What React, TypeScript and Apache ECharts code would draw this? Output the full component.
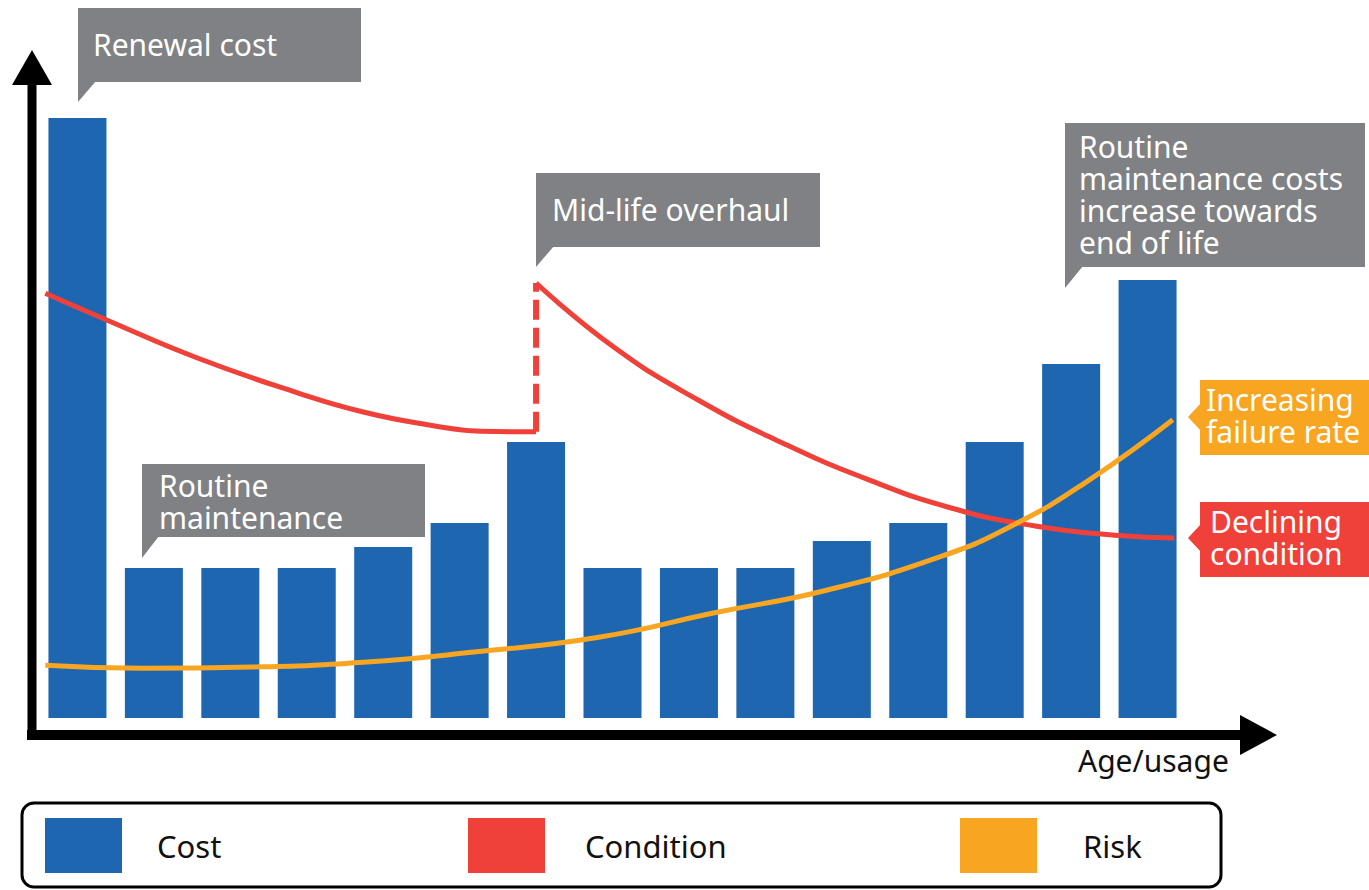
import React, { useEffect, useRef } from "react";
import * as echarts from "echarts";

// Asset life-cycle: cost per period, condition and risk over age/usage
const costValues = [100, 25, 25, 25, 28.5, 32.5, 46, 25, 25, 25, 29.5, 32.5, 46, 59, 73];

const conditionBeforeAge = [0.58, 1.39, 2.57, 3.88, 4.74, 5.62, 6.27, 7.0];
const conditionBefore = [70.8, 66.3, 60, 54.2, 51, 48.8, 47.8, 47.7];
const conditionAfterAge = [7.0, 8.02, 9.12, 10.23, 11.33, 12.43, 13.53, 14.63, 15.35];
const conditionAfter = [72.5, 61.8, 53.0, 45.8, 39.8, 35.0, 32.0, 30.4, 30];

const riskAge = [0.58, 1.84, 3.29, 4.74, 6.19, 7.84, 9.32, 10.8, 12.27, 13.25, 14.24, 15.33];
const riskValues = [8.8, 8.3, 8.5, 9.3, 11, 13.5, 17.5, 21.3, 26.8, 32.2, 39.7, 49.7];

const legendNames = ["Cost", "Condition", "Risk"];

const BLUE = "#1f66b0";
const RED = "#ef4139";
const ORANGE = "#f8a522";
const GREY = "#808185";
const FONT = '"Noto Sans", "Open Sans", sans-serif';

type Callout = {
  x: number;
  y: number;
  w: number;
  h: number;
  tail: number[][];
  text: string;
  tx: number;
  ty: number;
  color: string;
};

const callouts: Callout[] = [
  { x: 78, y: 8, w: 283, h: 74, tail: [[78, 81], [96, 81], [78, 102]], text: "Renewal cost", tx: 93, ty: 28, color: GREY },
  { x: 536, y: 173, w: 284, h: 74, tail: [[536, 246], [554, 246], [536, 267]], text: "Mid-life overhaul", tx: 552, ty: 193, color: GREY },
  { x: 142, y: 464, w: 283, h: 73, tail: [[142, 536], [159, 536], [142, 558]], text: "Routine\nmaintenance", tx: 159, ty: 469, color: GREY },
  {
    x: 1065, y: 123, w: 300, h: 144, tail: [[1065, 266], [1083, 266], [1065, 288]],
    text: "Routine\nmaintenance costs\nincrease towards\nend of life", tx: 1079, ty: 130, color: GREY,
  },
  { x: 1200, y: 380, w: 200, h: 75, tail: [[1201, 403], [1188, 417], [1201, 431]], text: "Increasing\nfailure rate", tx: 1206, ty: 383, color: ORANGE },
  { x: 1200, y: 502, w: 200, h: 75, tail: [[1201, 524], [1188, 538], [1201, 552]], text: "Declining\ncondition", tx: 1210, ty: 505, color: RED },
];

function calloutGraphic(c: Callout) {
  return {
    type: "group",
    z: 20,
    children: [
      { type: "rect", shape: { x: c.x, y: c.y, width: c.w, height: c.h }, style: { fill: c.color } },
      { type: "polygon", shape: { points: c.tail }, style: { fill: c.color } },
      {
        type: "text",
        style: {
          text: c.text,
          x: c.tx,
          y: c.ty,
          fill: "#ffffff",
          fontSize: 30,
          fontFamily: FONT,
          lineHeight: 32,
          verticalAlign: "top",
          align: "left",
        },
      },
    ],
  };
}

function pairs(xs: number[], ys: number[]) {
  return xs.map((x, i) => [x, ys[i]]);
}

export default function App() {
  const ref = useRef<HTMLDivElement>(null);

  useEffect(() => {
    if (!ref.current) return;
    const chart = echarts.init(ref.current, undefined, { renderer: "svg" });

    const legendBase = {
      orient: "horizontal",
      top: 818,
      padding: 0,
      itemWidth: 77,
      itemHeight: 55,
      icon: "rect",
      selectedMode: false,
      textStyle: { fontSize: 31, fontFamily: FONT, color: "#111111" },
    };

    chart.setOption({
      animation: false,
      backgroundColor: "#ffffff",
      grid: { left: 1, top: 58, width: 1223, height: 660 },
      xAxis: { type: "value", min: 0, max: 16, show: false },
      yAxis: { type: "value", min: 0, max: 110, show: false },
      legend: [
        { ...legendBase, left: 45, data: [legendNames[0]], textStyle: { ...legendBase.textStyle, padding: [0, 0, 0, 30] } },
        { ...legendBase, left: 468, data: [legendNames[1]], textStyle: { ...legendBase.textStyle, padding: [0, 0, 0, 35] } },
        { ...legendBase, left: 960, data: [legendNames[2]], textStyle: { ...legendBase.textStyle, padding: [0, 0, 0, 41] } },
      ],
      series: [
        {
          name: "Cost",
          type: "bar",
          barWidth: 58,
          itemStyle: { color: BLUE },
          data: costValues.map((v, i) => [i + 1, v]),
          z: 2,
        },
        {
          name: "Condition",
          type: "line",
          smooth: 0.5,
          symbol: "none",
          itemStyle: { color: RED },
          lineStyle: { color: RED, width: 5 },
          data: pairs(conditionBeforeAge, conditionBefore),
          z: 4,
        },
        {
          name: "Condition",
          type: "line",
          smooth: 0.5,
          symbol: "none",
          itemStyle: { color: RED },
          lineStyle: { color: RED, width: 5 },
          data: pairs(conditionAfterAge, conditionAfter),
          z: 4,
        },
        {
          // jump in condition at the mid-life overhaul
          name: "Condition",
          type: "line",
          symbol: "none",
          itemStyle: { color: RED },
          lineStyle: { color: RED, width: 6, type: [20, 8] },
          data: [
            [conditionBeforeAge[conditionBeforeAge.length - 1], conditionBefore[conditionBefore.length - 1]],
            [conditionAfterAge[0], conditionAfter[0]],
          ],
          z: 4,
        },
        {
          name: "Risk",
          type: "line",
          smooth: 0.5,
          symbol: "none",
          itemStyle: { color: ORANGE },
          lineStyle: { color: ORANGE, width: 5 },
          data: pairs(riskAge, riskValues),
          z: 5,
        },
      ],
      graphic: [
        // axes with arrow heads
        { type: "line", z: 10, shape: { x1: 32, y1: 80, x2: 32, y2: 740 }, style: { stroke: "#000", lineWidth: 9 } },
        { type: "polygon", z: 10, shape: { points: [[12, 85], [52, 85], [32, 50]] }, style: { fill: "#000" } },
        { type: "line", z: 10, shape: { x1: 27, y1: 735, x2: 1245, y2: 735 }, style: { stroke: "#000", lineWidth: 10 } },
        { type: "polygon", z: 10, shape: { points: [[1240, 715], [1277, 735], [1240, 755]] }, style: { fill: "#000" } },
        {
          type: "text",
          z: 10,
          style: { text: "Age/usage", x: 1078, y: 760, fill: "#111111", fontSize: 30, fontFamily: FONT, verticalAlign: "middle" },
        },
        // legend frame
        {
          type: "rect",
          z: 1,
          shape: { x: 22, y: 803, width: 1199, height: 84, r: 12 },
          style: { fill: "none", stroke: "#000", lineWidth: 3 },
        },
        ...callouts.map(calloutGraphic),
      ],
    });

    return () => chart.dispose();
  }, []);

  return (
    <div
      ref={ref}
      style={{ position: "fixed", left: 0, top: 0, width: 1369, height: 890, background: "#fff" }}
    />
  );
}
